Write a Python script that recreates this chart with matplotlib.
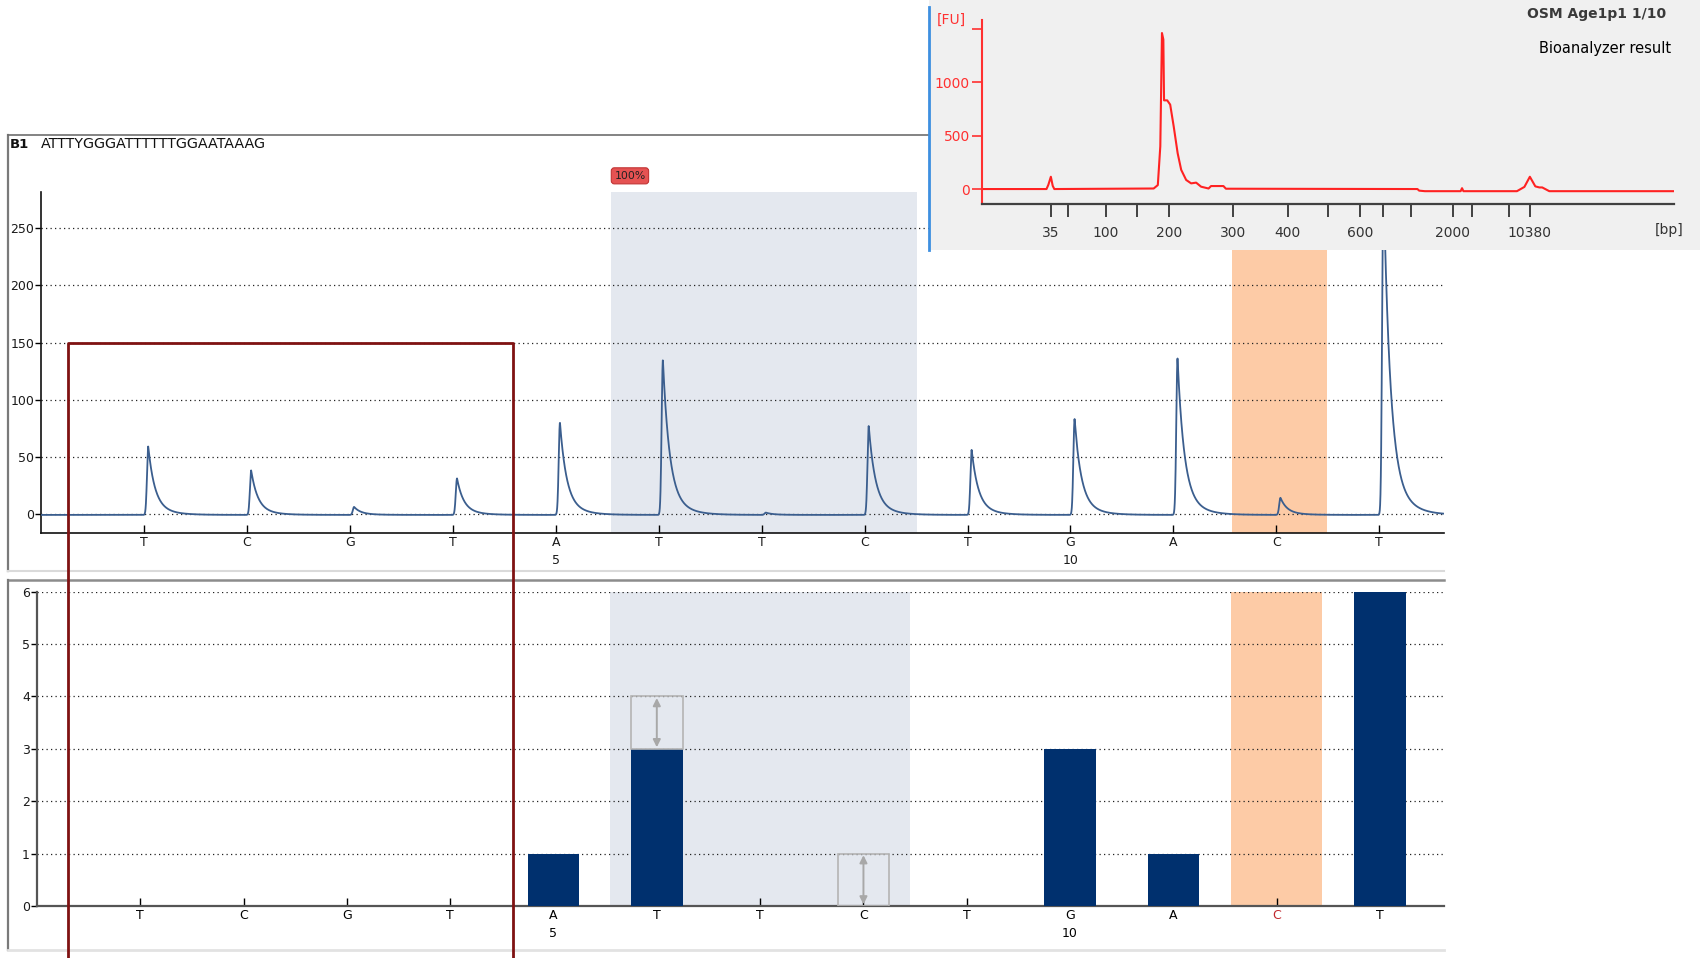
import matplotlib
matplotlib.use("Agg")
import matplotlib.pyplot as plt
import numpy as np
from matplotlib.lines import Line2D
from matplotlib.patches import Rectangle

# ---------------- data ----------------
bases = ["T", "C", "G", "T", "A", "T", "T", "C", "T", "G", "A", "C", "T"]
base_numbers = {5: "5", 10: "10"}
peak_heights = [60, 39, 7, 32, 81, 136, 2, 78, 57, 84, 137, 15, 300]
bar_values = [0, 0, 0, 0, 1, 3, 0, 0, 0, 3, 1, 0, 6]
expected_values = [0, 0, 0, 0, 1, 4, 0, 1, 0, 3, 1, 0, 6]
well_label = "B1"
sequence = "ATTTYGGGATTTTTTGGAATAAAG"
top_yticks = [0, 50, 100, 150, 200, 250]
bottom_yticks = [0, 1, 2, 3, 4, 5, 6]
highlight_base = 12  # red-labelled dispensation (C)

# Bioanalyzer inset (migration position in arbitrary units, fluorescence FU)
bio_pos = [0, 9.3, 9.57, 9.93, 10.2, 10.43, 24.8, 25.4, 25.76, 26.0, 26.2, 26.3,
           26.76, 27.19, 27.7, 28.27, 28.78, 29.5, 30.22, 30.94, 31.66, 32.74,
           33.1, 34.89, 35.25, 62.95, 63.2, 64.03, 69.2, 69.4, 69.6, 77.34,
           78.42, 79.21, 80.0, 80.58, 81.0, 82.02, 100]
bio_fu = [0, 0, 40, 115, 30, 0, 5, 37, 400, 1460, 1400, 830,
          830, 790, 585, 335, 180, 85, 53, 60, 22, 5,
          28, 28, 3, 0, -15, -20, -20, 8, -20, -20,
          20, 115, 25, 15, 15, -20, -20]
bio_tick_pos = [9.93, 12.37, 17.84, 22.45, 26.98, 36.33, 44.18, 50.0, 54.68,
                57.92, 62.09, 68.06, 70.87, 76.19, 79.21]
bio_tick_labels = ["35", "", "100", "", "200", "300", "400", "", "600",
                   "", "", "2000", "", "", "10380"]
bio_yticks = [0, 500, 1000, 1500]
bio_ytick_labels = ["0", "500", "1000", ""]
bio_title = "OSM Age1p1 1/10"
bio_subtitle = "Bioanalyzer result"

# ---------------- styling ----------------
plt.rcParams['font.family'] = ['DejaVu Sans']
W, H = 1568.0, 884.0
def fx(s):
    return s / W
def fy(s):
    return 1 - s / H

TRACE = "#3B5E8E"
BAR = "#00306E"
SHADE = "#E4E8EF"
ORANGE = "#FDCBA6"
BOXRED = "#7F1212"
GRID = dict(linestyle=(0, (1, 2.6)), color="#222222", linewidth=0.9)

fig = plt.figure(figsize=(17, 9.58), dpi=100)

positions = np.arange(1, len(bases) + 1)
def tick_labels():
    return [f"{b}\n{base_numbers[i]}" if i in base_numbers else b
            for i, b in zip(positions, bases)]

# ---------------- top: pyrogram ----------------
ax1 = fig.add_axes([fx(38), fy(492), fx(1332) - fx(38), fy(177) - fy(492)])
ax1.set_xlim(0, 13.63)
ax1.set_ylim(-17, 282)

x = np.linspace(0, 13.63, 8000)
y = np.zeros_like(x)
for p, h in zip(positions, peak_heights):
    t = x - (p + 0.04)
    tp = np.clip(t, 0, None)
    shape = np.where(t < 0, np.exp(-(t / 0.017) ** 2),
                     0.82 * np.exp(-tp / 0.062) + 0.18 * np.exp(-tp / 0.15))
    y += h * shape
y -= 1.0
ax1.plot(x, y, color=TRACE, lw=1.3, zorder=3)

ax1.axvspan(5.54, 8.51, color=SHADE, zorder=0, lw=0)
ax1.axvspan(11.57, 12.49, color=ORANGE, zorder=0, lw=0)
ax1.set_yticks(top_yticks)
ax1.yaxis.grid(True, **GRID)
ax1.set_axisbelow(True)
ax1.set_xticks(positions)
ax1.set_xticklabels(tick_labels())
for t in ax1.get_xticklabels():
    t.set_linespacing(1.55)
ax1.tick_params(axis='x', direction='in', length=6, width=1, pad=2,
                labelsize=9, labelcolor="#1a1a1a")
ax1.tick_params(axis='y', direction='out', length=4, width=1, pad=1,
                labelsize=9, labelcolor="#1a1a1a")
for s in ("top", "right"):
    ax1.spines[s].set_visible(False)
for s in ("left", "bottom"):
    ax1.spines[s].set_linewidth(1.2)
    ax1.spines[s].set_color("#111111")

ax1.text(5.72, 296, "100%", fontsize=7.8, color="#222222", ha="center",
         va="center", clip_on=False,
         bbox=dict(boxstyle="round,pad=0.28", fc="#E55252", ec="#C23434", lw=0.8))

# ---------------- bottom: histogram ----------------
ax2 = fig.add_axes([fx(34), fy(836), fx(1332) - fx(34), fy(546) - fy(836)])
ax2.set_xlim(0, 13.62)
ax2.set_ylim(0, 6)
ax2.axvspan(5.55, 8.45, color=SHADE, zorder=0, lw=0)
ax2.axvspan(11.56, 12.44, color=ORANGE, zorder=0, lw=0)
ax2.bar(positions, bar_values, width=0.5, color=BAR, zorder=3)
for p, b, e in zip(positions, bar_values, expected_values):
    if e > b:
        ax2.add_patch(Rectangle((p - 0.25, b), 0.5, e - b, fill=False,
                                edgecolor="#B4B4B4", lw=1.2, zorder=3))
        ax2.annotate("", xy=(p, e - 0.03), xytext=(p, b + 0.03),
                     arrowprops=dict(arrowstyle="<|-|>", color="#A8A8A8", lw=1.4,
                                     mutation_scale=11, shrinkA=0, shrinkB=0),
                     zorder=4)
ax2.set_yticks(bottom_yticks)
ax2.yaxis.grid(True, **GRID)
ax2.set_axisbelow(True)
ax2.set_xticks(positions)
ax2.set_xticklabels(tick_labels())
for i, t in enumerate(ax2.get_xticklabels()):
    t.set_linespacing(1.55)
    if positions[i] == highlight_base:
        t.set_color("#C0282D")
ax2.tick_params(axis='x', direction='in', length=6, width=1, pad=2,
                labelsize=9)
ax2.tick_params(axis='y', direction='out', length=4, width=1, pad=1,
                labelsize=9, labelcolor="#1a1a1a")
for s in ("top", "right"):
    ax2.spines[s].set_visible(False)
for s in ("left", "bottom"):
    ax2.spines[s].set_linewidth(1.6)
    ax2.spines[s].set_color("#555555")

# ---------------- panel frames ----------------
def fline(xs, ys, color, lw, z=1.5):
    fig.add_artist(Line2D(xs, ys, transform=fig.transFigure, color=color, lw=lw, zorder=z))

fline([fx(7), fx(7)], [fy(125), fy(527)], "#7a7a7a", 1.6)
fline([fx(7), fx(857)], [fy(125), fy(125)], "#6e6e6e", 1.2)
fline([fx(7), fx(1332)], [fy(527), fy(527)], "#dadada", 1.5)
fline([fx(7), fx(1332)], [fy(535), fy(535)], "#8c8c8c", 1.8)
fline([fx(7), fx(7)], [fy(535), fy(877)], "#7a7a7a", 1.6)
fline([fx(7), fx(1332)], [fy(877), fy(877)], "#e2e2e2", 2.0)

fig.text(fx(9), fy(133), well_label, fontsize=9.5, weight="bold", va="center",
         color="#111111")
fig.text(fx(38), fy(133), sequence, fontsize=10.3, va="center", color="#111111")

# red selection box spanning both panels
fig.add_artist(Line2D([0.2625, 0.2625, 4.582, 4.582], [-420, 150, 150, -420],
                      transform=ax1.transData, color=BOXRED, lw=2.0, zorder=10))

# ---------------- inset: bioanalyzer ----------------
fig.add_artist(Rectangle((929 / 1700, 1 - 250 / 958), 1 - 929 / 1700, 250 / 958,
                         transform=fig.transFigure, facecolor="#F0F0F0",
                         edgecolor="none", zorder=2))
fig.add_artist(Line2D([929 / 1700, 929 / 1700], [1 - 7 / 958, 1 - 250 / 958],
                      transform=fig.transFigure, color="#3D8FE0", lw=2, zorder=2.5))

axi = fig.add_axes([982.2 / 1700, 1 - 204 / 958, (1673.6 - 982.2) / 1700, 184 / 958],
                   zorder=3)
axi.set_facecolor("none")
axi.plot(bio_pos, bio_fu, color="#FF2222", lw=1.5)
axi.set_xlim(0, 100)
axi.set_ylim(-140, 1582)
axi.set_yticks(bio_yticks)
axi.set_yticklabels(bio_ytick_labels)
axi.set_xticks(bio_tick_pos)
axi.set_xticklabels(bio_tick_labels)
axi.tick_params(axis='y', direction='out', length=7, width=1.2, colors="#FF3030",
                labelsize=10, pad=2)
axi.tick_params(axis='x', direction='out', length=9, width=1.3, color="#333333",
                labelcolor="#333333", labelsize=10, pad=7)
for s in ("top", "right"):
    axi.spines[s].set_visible(False)
axi.spines["left"].set_color("#FF3030")
axi.spines["left"].set_linewidth(1.5)
axi.spines["bottom"].set_color("#404040")
axi.spines["bottom"].set_linewidth(1.6)

fig.text(951 / 1700, 1 - 20 / 958, "[FU]", color="#FF3030", fontsize=10,
         ha="center", va="center", zorder=4)
fig.text(1669 / 1700, 1 - 230 / 958, "[bp]", color="#333333", fontsize=10,
         ha="center", va="center", zorder=4)
fig.text(1666 / 1700, 1 - 14 / 958, bio_title, color="#3a3a3a", fontsize=10,
         weight="bold", ha="right", va="center", zorder=4)
fig.text(1671 / 1700, 1 - 49 / 958, bio_subtitle, color="#000000", fontsize=10.5,
         ha="right", va="center", zorder=4)

fig.savefig("out.png", dpi=100)
